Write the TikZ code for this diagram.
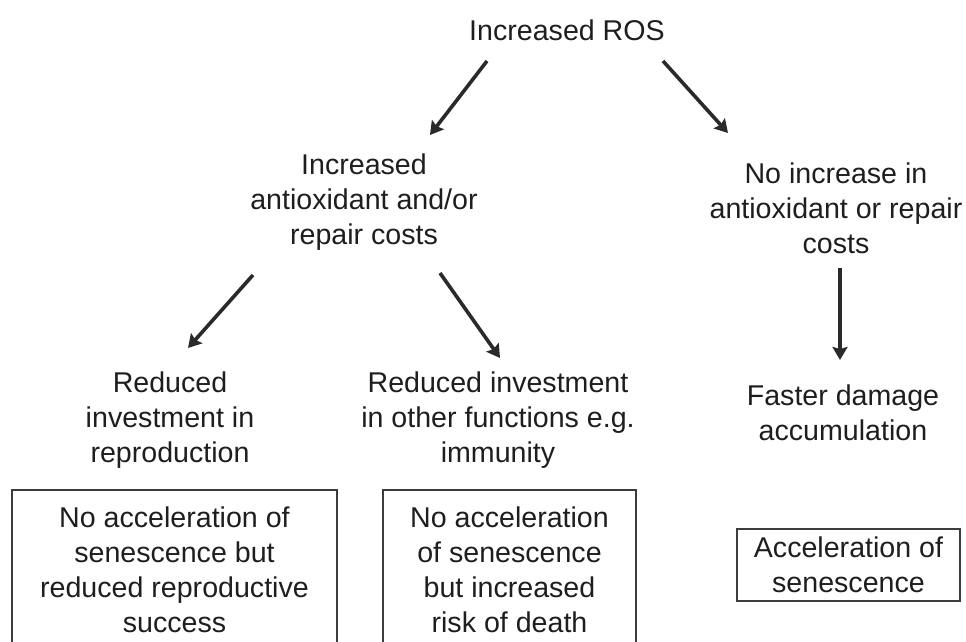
\documentclass[tikz,border=0pt]{standalone}
\usepackage{fontspec}
\setmainfont{Liberation Sans}
\usepackage{xcolor}
\usepackage{tikz}
\usetikzlibrary{arrows.meta,calc}
\definecolor{rosink}{HTML}{1E1E1E}
\definecolor{rosarrow}{HTML}{2A2A2A}
\definecolor{rosframe}{HTML}{3C3C3C}

\begin{document}
\begin{tikzpicture}[
  x=0.5pt,y=-0.5pt,
  lbl/.style={align=center,text=rosink,font=\fontsize{14.3}{17.5}\selectfont,inner sep=2pt},
  outbox/.style={lbl,draw=rosframe,line width=0.7pt,inner sep=0pt},
  arr/.style={->,draw=rosarrow,line width=1.8pt},
  >={Stealth[length=6.5pt,width=7.5pt,inset=1pt]}]
  \useasboundingbox (0,0) rectangle (966,642);
  % causes
  \node[lbl] (ros) at (567,30) {Increased ROS};
  \node[lbl] (costs) at (364,202) {Increased\\antioxidant and/or\\repair costs};
  \node[lbl] (nocosts) at (836,208) {No increase in\\antioxidant or repair\\costs};
  % consequences
  \node[lbl] (redrep) at (170,420) {Reduced\\investment in\\reproduction};
  \node[lbl] (redoth) at (498,420) {Reduced investment\\in other functions e.g.\\immunity};
  \node[lbl] (faster) at (843,413) {Faster damage\\accumulation};
  % outcomes
  \node[outbox,minimum width=162.5pt,minimum height=80pt] (outrep) at (174.5,570) {No acceleration of\\senescence but\\reduced reproductive\\success};
  \node[outbox,minimum width=126.5pt,minimum height=80pt] (outdeath) at (509.5,570) {No acceleration\\of senescence\\but increased\\risk of death};
  \node[outbox,minimum width=111.5pt,minimum height=36pt] (outsen) at (848.5,565) {Acceleration of\\senescence};
  \draw[arr] ($(ros)+(-80,31)$) -- ($(costs)+(66,-67)$);
  \draw[arr] ($(ros)+(96,31)$) -- ($(nocosts)+(-108,-75)$);
  \draw[arr] ($(costs)+(-111,73)$) -- ($(redrep)+(18,-72)$);
  \draw[arr] ($(costs)+(76,71)$) -- ($(redoth)+(2,-62)$);
  \draw[arr] ($(nocosts)+(4,60)$) -- ($(faster)+(-3,-53)$);
\end{tikzpicture}
\end{document}
